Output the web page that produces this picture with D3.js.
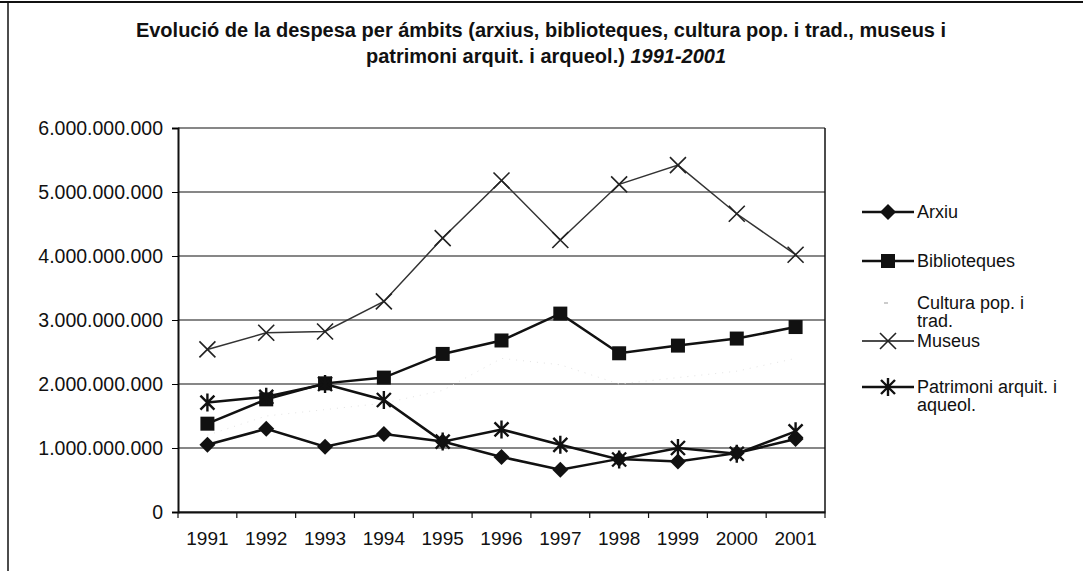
<!DOCTYPE html>
<html>
<head>
<meta charset="utf-8">
<script src="https://cdn.jsdelivr.net/npm/d3@7"></script>
<style>
  body { margin: 0; background: #fff; }
  text { font-family: "Liberation Sans", Arial, sans-serif; fill: #111; }
</style>
</head>
<body>
<div id="chart"></div>
<script>
// data (pessetes)
var years = ["1991","1992","1993","1994","1995","1996","1997","1998","1999","2000","2001"];
var arxiu = [1.05e9, 1.30e9, 1.02e9, 1.22e9, 1.10e9, 0.86e9, 0.66e9, 0.83e9, 0.79e9, 0.92e9, 1.14e9];
var biblioteques = [1.38e9, 1.76e9, 2.01e9, 2.10e9, 2.47e9, 2.68e9, 3.10e9, 2.48e9, 2.60e9, 2.71e9, 2.89e9];
var cultura = [1.20e9, 1.50e9, 1.60e9, 1.70e9, 1.90e9, 2.40e9, 2.30e9, 2.00e9, 2.10e9, 2.20e9, 2.40e9];
var museus = [2.54e9, 2.80e9, 2.82e9, 3.29e9, 4.28e9, 5.18e9, 4.25e9, 5.12e9, 5.42e9, 4.66e9, 4.02e9];
var patrimoni = [1.71e9, 1.80e9, 2.00e9, 1.75e9, 1.10e9, 1.29e9, 1.05e9, 0.82e9, 1.00e9, 0.91e9, 1.26e9];
var yTicks = [0, 1e9, 2e9, 3e9, 4e9, 5e9, 6e9];

var series = [
  {name: ["Arxiu"], values: arxiu, mark: "diamond"},
  {name: ["Biblioteques"], values: biblioteques, mark: "square"},
  {name: ["Cultura pop. i", "trad."], values: cultura, mark: "none"},
  {name: ["Museus"], values: museus, mark: "cross"},
  {name: ["Patrimoni arquit. i", "aqueol."], values: patrimoni, mark: "star"}
];

var W = 1083, H = 571;
var plotL = 178, plotR = 825, plotT = 128, plotB = 512;

var svg = d3.select("#chart").append("svg")
  .attr("width", W).attr("height", H);

// scan frame
svg.append("line").attr("x1", 0).attr("x2", W).attr("y1", 2).attr("y2", 2)
  .attr("stroke", "#111").attr("stroke-width", 2);
svg.append("line").attr("x1", 8).attr("x2", 8).attr("y1", 2).attr("y2", H)
  .attr("stroke", "#111").attr("stroke-width", 1.5);

// title
var title = svg.append("text").attr("text-anchor", "middle")
  .style("font-weight", "bold").style("font-size", "20px");
title.append("tspan").attr("x", 541).attr("y", 37)
  .text("Evolució de la despesa per ámbits (arxius, biblioteques, cultura pop. i trad., museus i");
var t2 = title.append("tspan").attr("x", 546).attr("y", 63);
t2.append("tspan").text("patrimoni arquit. i arqueol.) ");
t2.append("tspan").style("font-style", "italic").text("1991-2001");

var x = d3.scaleBand().domain(years).range([plotL, plotR]);
var y = d3.scaleLinear().domain([0, 6e9]).range([plotB, plotT]);

// gridlines
svg.append("g").selectAll("line").data(yTicks).enter().append("line")
  .attr("x1", plotL).attr("x2", plotR)
  .attr("y1", function(d) { return y(d); }).attr("y2", function(d) { return y(d); })
  .attr("stroke", "#111").attr("stroke-width", 1.2);
svg.append("line").attr("x1", plotR).attr("x2", plotR).attr("y1", plotT).attr("y2", plotB)
  .attr("stroke", "#111").attr("stroke-width", 1.5);

// y axis
var fmt = function(d) { return d3.format(",")(d).replace(/,/g, "."); };
var yAxis = svg.append("g").attr("transform", "translate(" + plotL + ",0)")
  .call(d3.axisLeft(y).tickValues(yTicks).tickFormat(fmt).tickSize(6).tickPadding(9));
yAxis.select(".domain").attr("stroke", "#111").attr("stroke-width", 2);
yAxis.selectAll("text").style("font-size", "19.5px").attr("fill", "#111");

// x axis with ticks between categories
var xAxis = svg.append("g").attr("transform", "translate(0," + plotB + ")")
  .call(d3.axisBottom(x).tickSize(0).tickPadding(20));
xAxis.select(".domain").attr("stroke", "#111").attr("stroke-width", 2);
xAxis.selectAll("text").style("font-size", "19px").attr("fill", "#111");
svg.append("g").selectAll("line").data(years.concat(["end"])).enter().append("line")
  .attr("x1", function(d, i) { return plotL + i * x.step(); })
  .attr("x2", function(d, i) { return plotL + i * x.step(); })
  .attr("y1", plotB).attr("y2", plotB + 6)
  .attr("stroke", "#111").attr("stroke-width", 1.2);

function cx(i) { return x(years[i]) + x.bandwidth() / 2; }

function drawMark(g, mark) {
  if (mark == "diamond") {
    g.append("path").attr("d", "M0,-8L8,0L0,8L-8,0Z").attr("fill", "#111");
  } else if (mark == "square") {
    g.append("rect").attr("x", -7).attr("y", -7).attr("width", 14).attr("height", 14).attr("fill", "#111");
  } else if (mark == "cross") {
    g.append("path").attr("d", "M-8,-8L8,8M-8,8L8,-8").attr("stroke", "#222").attr("stroke-width", 1.6);
  } else if (mark == "star") {
    g.append("path").attr("d", "M-7,-7L7,7M-7,7L7,-7M0,-9L0,9").attr("stroke", "#111").attr("stroke-width", 2.4);
  }
}

var line = d3.line().x(function(d, i) { return cx(i); }).y(function(d) { return y(d); });

series.forEach(function(s) {
  var faint = s.mark == "none";
  svg.append("path").datum(s.values).attr("d", line).attr("fill", "none")
    .attr("stroke", faint ? "#e4e4e4" : (s.mark == "cross" ? "#333" : "#111"))
    .attr("stroke-width", faint ? 1 : (s.mark == "cross" ? 1.5 : 2.5))
    .attr("stroke-dasharray", faint ? "1,6" : null);
  s.values.forEach(function(v, i) {
    var g = svg.append("g").attr("transform", "translate(" + cx(i) + "," + y(v) + ")");
    drawMark(g, s.mark);
  });
});

// legend
var legendY = [212, 261, 303, 341, 387];
series.forEach(function(s, k) {
  var g = svg.append("g").attr("transform", "translate(0," + legendY[k] + ")");
  if (s.mark == "none") {
    g.append("line").attr("x1", 884).attr("x2", 888).attr("y1", 0).attr("y2", 0)
      .attr("stroke", "#999").attr("stroke-width", 1);
  } else {
    g.append("line").attr("x1", 862).attr("x2", 914).attr("y1", 0).attr("y2", 0)
      .attr("stroke", "#111").attr("stroke-width", s.mark == "cross" ? 1.5 : 2.5);
    var m = g.append("g").attr("transform", "translate(888,0)");
    drawMark(m, s.mark);
  }
  s.name.forEach(function(n, j) {
    g.append("text").attr("x", 917).attr("y", j * 18).attr("dy", "0.35em")
      .style("font-size", "18px").text(n);
  });
});
</script>
</body>
</html>
